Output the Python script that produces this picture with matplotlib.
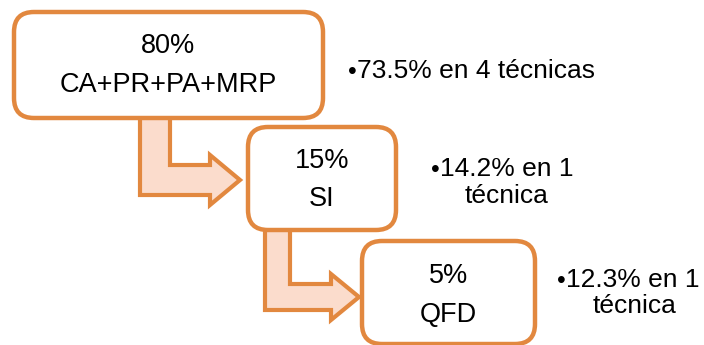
import matplotlib.pyplot as plt
from matplotlib.patches import FancyBboxPatch, Polygon

# shares shown in the three stages
shares = ["80%", "15%", "5%"]
techniques = ["CA+PR+PA+MRP", "SI", "QFD"]
# side notes: first line after the bullet, optional second line
note_first = ["73.5% en 4 técnicas", "14.2% en 1", "12.3% en 1"]
note_second = ["", "técnica", "técnica"]

# layout in pixel units (x0, y0, x1, y1) of each box, y grows downward
boxes = [(14, 12, 323, 118), (248, 127, 396, 230), (362, 241, 535, 344)]
line1_y = [53, 168, 283]
line2_y = [92, 206, 322]
bullet_x = [348, 431, 557]
note_y = [78, 176, 287]
note_x2 = [None, 507, 635]
note_y2 = [None, 203, 313]

edge = "#E2883F"
fill = "#FBDCCC"
fs = 19.5
fs_note = 19

plt.rcParams["font.family"] = ["Liberation Sans", "DejaVu Sans"]

fig = plt.figure(figsize=(7.04, 3.45), dpi=100)
ax = fig.add_axes([0, 0, 1, 1])
ax.set_xlim(0, 704)
ax.set_ylim(345, 0)
ax.axis("off")


def bent_arrow(x0, x1, ytop, yh0, yh1, head_x, head_top, head_bot, tip_x):
    yc = (yh0 + yh1) / 2
    pts = [(x0, ytop), (x1, ytop), (x1, yh0), (head_x, yh0), (head_x, head_top),
           (tip_x, yc), (head_x, head_bot), (head_x, yh1), (x0, yh1)]
    ax.add_patch(Polygon(pts, closed=True, facecolor=fill, edgecolor=edge,
                         linewidth=3, joinstyle="miter", zorder=1))


bent_arrow(140, 170, 112, 165, 195, 210, 155, 205, 240)
bent_arrow(265, 290, 225, 284, 310, 331, 274, 320, 359)

for i, (x0, y0, x1, y1) in enumerate(boxes):
    ax.add_patch(FancyBboxPatch((x0, y0), x1 - x0, y1 - y0,
                                boxstyle="round,pad=0,rounding_size=20",
                                facecolor="white", edgecolor=edge,
                                linewidth=3.2, zorder=2))
    cx = (x0 + x1) / 2
    ax.text(cx, line1_y[i], shares[i], ha="center", va="baseline",
            fontsize=fs, color="black", zorder=3)
    ax.text(cx, line2_y[i], techniques[i], ha="center", va="baseline",
            fontsize=fs, color="black", zorder=3)

    # list marker in front of the first note line
    ax.text(bullet_x[i], note_y[i] + 1, "•", ha="left", va="baseline",
            fontsize=18, color="black")
    ax.text(bullet_x[i] + 9, note_y[i], note_first[i], ha="left",
            va="baseline", fontsize=fs_note, color="black")
    if note_second[i]:
        ax.text(note_x2[i], note_y2[i], note_second[i], ha="center",
                va="baseline", fontsize=fs_note, color="black")

fig.savefig("out.png", dpi=100)
